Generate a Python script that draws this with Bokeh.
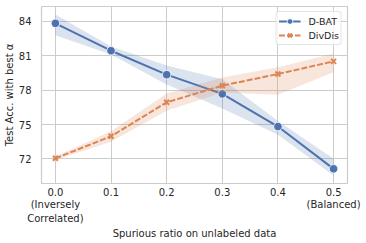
from bokeh.plotting import figure
from bokeh.models import FixedTicker, Range1d, ColumnDataSource, LinearAxis
from bokeh.embed import file_html
from bokeh.resources import INLINE

ratios = [0.0, 0.1, 0.2, 0.3, 0.4, 0.5]
dbat_mean = [83.83, 81.44, 79.35, 77.67, 74.82, 71.13]
dbat_lower = [82.8, 81.1, 78.5, 76.4, 74.1, 70.55]
dbat_upper = [84.6, 81.8, 80.15, 78.95, 75.3, 72.0]
divdis_mean = [72.05, 73.97, 76.94, 78.39, 79.41, 80.51]
divdis_lower = [71.9, 73.5, 76.2, 77.8, 77.6, 79.55]
divdis_upper = [72.2, 74.4, 77.7, 79.1, 80.0, 81.2]
y_ticks = [72, 75, 78, 81, 84]
x_labels = ["0.0", "0.1", "0.2", "0.3", "0.4", "0.5"]
x_labels_2 = ["(Inversely", "", "", "", "", "(Balanced)"]
x_labels_3 = ["Correlated)", "", "", "", "", ""]

BLUE = "#4c72b0"
ORANGE = "#dd8452"
FONT = "DejaVu Sans"
TXT = "#262626"

p = figure(width=366, height=243, output_backend="svg", toolbar_location=None,
           x_range=Range1d(-0.025, 0.525), y_range=Range1d(69.85, 85.3),
           min_border_left=41, min_border_right=19, min_border_top=6, min_border_bottom=60)

p.background_fill_color = "white"
p.border_fill_color = "white"
p.outline_line_color = "#cccccc"
p.outline_line_width = 1.2

x2 = LinearAxis()
x3 = LinearAxis()
p.add_layout(x2, "below")
p.add_layout(x3, "below")

for ax in [p.xaxis[0], p.yaxis[0], x2, x3]:
    ax.axis_line_color = None
    ax.major_tick_line_color = None
    ax.minor_tick_line_color = None
    ax.major_tick_out = 0
    ax.major_tick_in = 0
    ax.minor_tick_out = 0
    ax.minor_tick_in = 0
    ax.major_label_text_font = FONT
    ax.major_label_text_font_size = "10px"
    ax.major_label_text_color = TXT
    ax.axis_label_text_font = FONT
    ax.axis_label_text_font_size = "10px"
    ax.axis_label_text_font_style = "normal"
    ax.axis_label_text_color = TXT

xa = p.xaxis[0]
xa.ticker = FixedTicker(ticks=ratios)
xa.major_label_overrides = {r: lab for r, lab in zip(ratios, x_labels)}
xa.major_label_standoff = 4

x2.ticker = FixedTicker(ticks=ratios)
x2.major_label_overrides = {r: lab for r, lab in zip(ratios, x_labels_2)}
x2.major_label_standoff = 0

x3.ticker = FixedTicker(ticks=ratios)
x3.major_label_overrides = {r: lab for r, lab in zip(ratios, x_labels_3)}
x3.major_label_standoff = 0
x3.axis_label = "Spurious ratio on unlabeled data"
x3.axis_label_standoff = 1

p.yaxis.ticker = FixedTicker(ticks=y_ticks)
p.yaxis.major_label_standoff = 10
p.yaxis.axis_label = "Test Acc. with best α"
p.yaxis.axis_label_standoff = 1

p.xgrid.grid_line_color = "#cccccc"
p.ygrid.grid_line_color = "#cccccc"
p.xgrid.grid_line_width = 1
p.ygrid.grid_line_width = 1

src_d = ColumnDataSource(dict(x=ratios, y=dbat_mean, lo=dbat_lower, hi=dbat_upper))
src_v = ColumnDataSource(dict(x=ratios, y=divdis_mean, lo=divdis_lower, hi=divdis_upper))

p.varea(x="x", y1="lo", y2="hi", source=src_d, fill_color=BLUE, fill_alpha=0.2)
p.line(x="x", y="y", source=src_d, line_color=BLUE, line_width=2, legend_label="D-BAT")
p.scatter(x="x", y="y", source=src_d, marker="circle", size=8.5, fill_color=BLUE,
          line_color="white", line_width=0.8, legend_label="D-BAT")

p.varea(x="x", y1="lo", y2="hi", source=src_v, fill_color=ORANGE, fill_alpha=0.2)
p.line(x="x", y="y", source=src_v, line_color=ORANGE, line_width=2, line_dash="6 2",
       legend_label="DivDis")
p.scatter(x="x", y="y", source=src_v, marker="x", size=7, line_color=ORANGE,
          line_width=2, legend_label="DivDis")

lg = p.legend[0]
lg.location = "top_right"
lg.margin = 5
lg.padding = 2
lg.spacing = 0
lg.glyph_width = 22
lg.glyph_height = 14
lg.label_height = 14
lg.label_text_font = FONT
lg.label_text_font_size = "9.5px"
lg.label_text_color = TXT
lg.label_standoff = 8
lg.border_line_color = "#cccccc"
lg.border_line_width = 1
lg.background_fill_alpha = 0.8
if hasattr(lg, "border_radius"):
    lg.border_radius = 3

open("out.html", "w").write(file_html(p, INLINE))
